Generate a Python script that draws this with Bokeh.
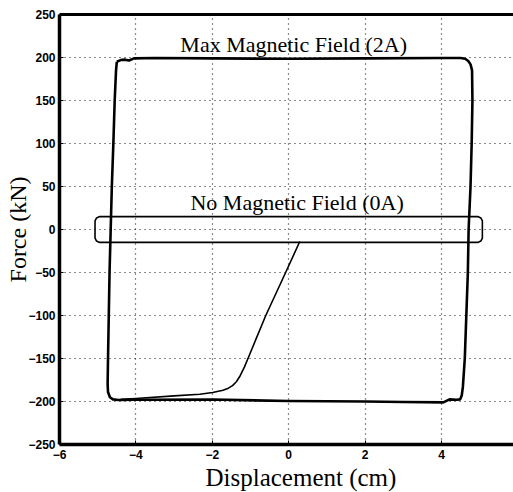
from bokeh.plotting import figure
from bokeh.models import LinearAxis, FixedTicker, Range1d, Label, Title
from bokeh.embed import file_html
from bokeh.resources import INLINE

# ---- data ----
x_ticks = [-6, -4, -2, 0, 2, 4, 6]
y_ticks = [-250, -200, -150, -100, -50, 0, 50, 100, 150, 200, 250]

# Max magnetic field (2A) hysteresis loop
loop_x = [-4.50, -4.40, -4.30, -4.18, -4.05, -3.5, -2.0, 0.0, 2.0, 4.0, 4.50, 4.62, 4.70, 4.76, 4.80,
          4.81, 4.79, 4.76, 4.71, 4.69, 4.65, 4.61, 4.56, 4.53, 4.49, 4.40, 4.21, 4.05, 3.0, 2.0,
          0.0, -2.0, -4.0, -4.45, -4.60, -4.68, -4.73, -4.74, -4.73, -4.71, -4.69, -4.66, -4.63,
          -4.59, -4.555, -4.52, -4.50]
loop_y = [195, 197, 197.5, 196.5, 199, 199.5, 199, 198.5, 199, 199.5, 199.5, 198.5, 196, 192, 185,
          150, 100, 50, 0, -50, -100, -150, -183, -193, -197.5, -198, -197.5, -201, -200.5, -200,
          -199.5, -197.6, -198, -198.3, -197.5, -195, -189, -180, -150, -100, -50, 0, 50,
          100, 150, 185, 195]

# Initial loading curve
init_x = [0.29, -0.08, -0.60, -1.02, -1.16, -1.27, -1.37, -1.47, -1.58, -1.72, -1.99, -2.33,
          -3.0, -4.0, -4.4]
init_y = [-14, -50, -100, -145, -160, -170, -177, -181.5, -184.5, -187, -189.5, -191.5,
          -193.5, -196.5, -197.5]

# No magnetic field (0A) loop
box_x = [-4.95, 4.95, 5.03, 5.07, 5.07, 5.03, 4.95, -4.95, -5.03, -5.07, -5.07, -5.03, -4.95]
box_y = [15, 15, 13.5, 10, -10, -13.5, -15, -15, -13.5, -10, 10, 13.5, 15]

texts = ["Max Magnetic Field (2A)", "No Magnetic Field (0A)"]
text_x = [0.13, 0.22]
text_y = [215, 31]

x_label = "Displacement (cm)"
y_label = "Force (kN)"

# ---- figure ----
p = figure(width=513, height=492, output_backend="svg", toolbar_location=None,
           x_range=Range1d(-6, 5.885), y_range=Range1d(-250, 250),
           min_border_left=59, min_border_right=0, min_border_top=14, min_border_bottom=48)
p.background_fill_color = "white"
p.border_fill_color = "white"
p.outline_line_color = None

for ax in (p.xaxis[0], p.yaxis[0]):
    ax.axis_line_width = 3.5
    ax.axis_line_color = "black"
    ax.major_tick_in = 4
    ax.major_tick_out = 0
    ax.minor_tick_line_color = None
    ax.major_label_text_font = "Liberation Sans"
    ax.major_label_text_font_style = "bold"
    ax.major_label_text_font_size = "12px"
    ax.major_label_text_color = "black"
    ax.major_label_standoff = 5
p.xaxis.ticker = FixedTicker(ticks=x_ticks)
p.yaxis.ticker = FixedTicker(ticks=y_ticks)
p.yaxis.major_label_standoff = 4

p.yaxis.axis_label = y_label
p.yaxis.axis_label_text_font = "Liberation Serif"
p.yaxis.axis_label_text_font_style = "normal"
p.yaxis.axis_label_text_font_size = "24px"
p.yaxis.axis_label_text_color = "black"
p.yaxis.axis_label_standoff = -6

p.add_layout(Title(text=x_label, align="left", offset=146, standoff=0,
                   text_font="Liberation Serif", text_font_style="normal",
                   text_font_size="25px", text_color="black"), "below")

top = LinearAxis(ticker=FixedTicker(ticks=[]), axis_line_width=3, axis_line_color="black",
                 major_label_text_font_size="0px", major_tick_in=0, major_tick_out=0,
                 minor_tick_in=0, minor_tick_out=0)
p.add_layout(top, "above")

p.xgrid.ticker = FixedTicker(ticks=x_ticks)
p.ygrid.ticker = FixedTicker(ticks=y_ticks)
for g in (p.xgrid[0], p.ygrid[0]):
    g.grid_line_color = "black"
    g.grid_line_dash = "1 4"
    g.grid_line_width = 1.2
    g.grid_line_alpha = 0.9

p.line(box_x, box_y, line_color="black", line_width=1.6)
p.line(init_x, init_y, line_color="black", line_width=1.6, line_join="round")
p.line(loop_x, loop_y, line_color="black", line_width=2.6, line_join="round")

for t, tx, ty in zip(texts, text_x, text_y):
    p.add_layout(Label(x=tx, y=ty, text=t, text_align="center", text_baseline="alphabetic",
                       text_font="Liberation Serif", text_font_size="22px", text_color="black"))

open("out.html", "w").write(file_html(p, INLINE))
